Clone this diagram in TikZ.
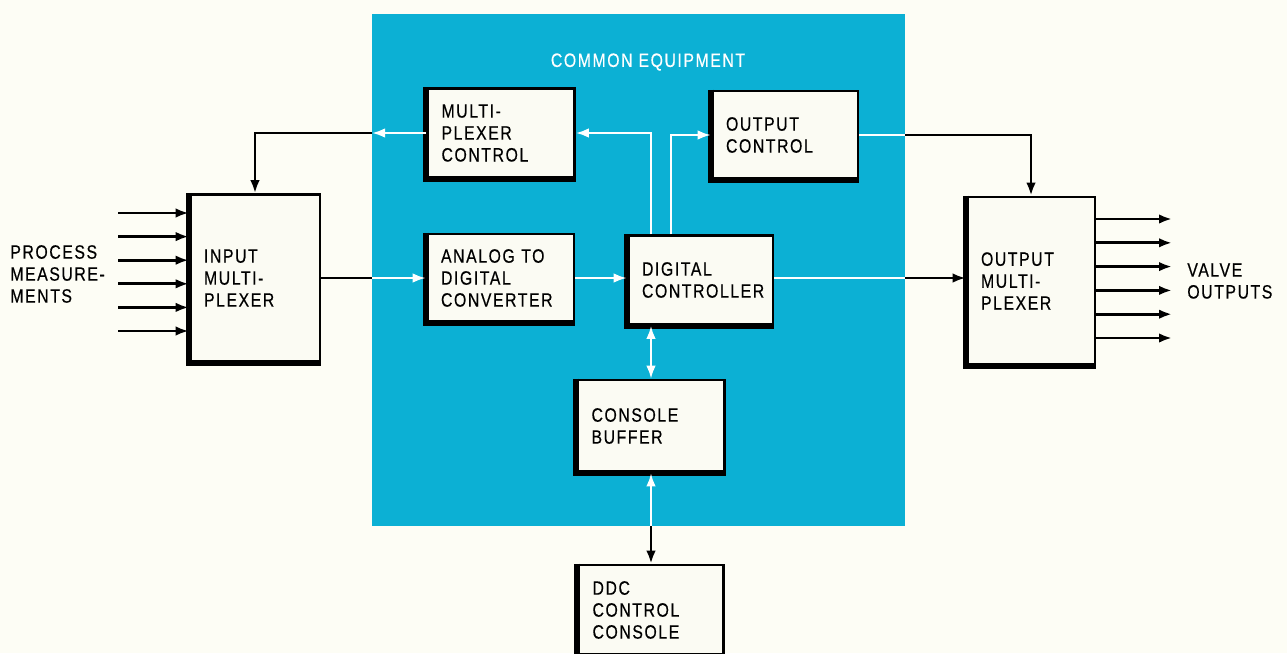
\documentclass[tikz,border=0pt]{standalone}
\usepackage{fontspec}
\setmainfont[FakeStretch=0.82,LetterSpace=8,FakeBold=0.4]{Liberation Sans}
\usetikzlibrary{arrows.meta,calc}
\definecolor{paper}{RGB}{253,253,245}
\definecolor{boxfill}{RGB}{251,251,243}
\definecolor{equip}{RGB}{12,176,212}

\begin{document}
\begin{tikzpicture}[x=0.02cm, y=-0.02cm,
    unit/.style={draw, line width=1.5pt, fill=boxfill, align=left,
                 inner xsep=0.28cm, font=\fontsize{11}{12.5}\selectfont},
    inedge/.style={draw=white, line width=1.2pt},
    outedge/.style={draw=black, line width=1.5pt},
    tip/.style={-{Latex[length=0.26cm,width=0.19cm]}},
    lbl/.style={align=left, inner sep=0pt, font=\fontsize{11}{12.5}\selectfont}
]

% page and common equipment area
\fill[paper] (0,0) rectangle (1287,653);
\useasboundingbox (0,0) rectangle (1287,653);
\node[fill=equip, inner sep=0pt, outer sep=0pt,
      minimum width=10.66cm, minimum height=10.24cm] (equip) at (638.5,270) {};
\node[lbl, text=white] (title) at (648,62) {COMMON EQUIPMENT};

% blocks
\node[unit, text width=2.38cm, minimum height=1.78cm] (mpxctl) at (501,133) {MULTI-\\PLEXER\\CONTROL};
\node[unit, text width=2.36cm, minimum height=1.76cm] (outctl) at (785,135) {OUTPUT\\CONTROL};
\node[unit, text width=2.04cm, minimum height=3.34cm] (inmux)  at (255,278) {INPUT\\MULTI-\\PLEXER};
\node[unit, text width=2.38cm, minimum height=1.76cm] (adc)    at (500.5,278) {ANALOG TO\\DIGITAL\\CONVERTER};
\node[unit, text width=2.34cm, minimum height=1.78cm] (dctl)   at (700.5,280) {DIGITAL\\CONTROLLER};
\node[unit, text width=2.00cm, minimum height=3.36cm] (outmux) at (1031,281) {OUTPUT\\MULTI-\\PLEXER};
\node[unit, text width=2.38cm, minimum height=1.84cm] (cbuf)   at (651,426) {CONSOLE\\BUFFER};
\node[unit, text width=2.34cm, minimum height=1.80cm] (ddc)    at (651,610) {DDC\\CONTROL\\CONSOLE};

% heavy left and bottom edges
\foreach \n in {mpxctl,outctl,inmux,adc,dctl,outmux,cbuf,ddc}
  \draw[line width=3.5pt] (\n.north west) -- (\n.south west) -- (\n.south east);

\node[lbl, anchor=west] (procin) at (10,274) {PROCESS\\MEASURE-\\MENTS};
\node[lbl, anchor=west] (valves) at (1187,281) {VALVE\\OUTPUTS};

% process inputs and valve outputs
\foreach \i in {0,...,5} {
  \coordinate (in\i) at (118,213+23.6*\i);
  \draw[outedge,tip] (in\i) -- (in\i -| inmux.west);
  \coordinate (out\i) at (1172,219+23.8*\i);
  \draw[outedge,tip] (out\i -| outmux.east) -- (out\i);
}

% multiplexer control to input multiplexer
\draw[inedge,tip] (mpxctl.west) -- (equip.west |- mpxctl.west);
\draw[outedge,tip] (equip.west |- mpxctl.west) -| (inmux.north);

% input multiplexer to a/d converter to controller
\draw[outedge] (inmux.east) -- (equip.west |- inmux.east);
\draw[inedge,tip] (equip.west |- inmux.east) -- (adc.west);
\draw[inedge,tip] (adc.east) -- (adc.east -| dctl.west);

% controller to output multiplexer
\draw[inedge] (dctl.east |- adc.east) -- (equip.east |- adc.east);
\draw[outedge,tip] (equip.east |- adc.east) -- (outmux.west |- adc.east);

% controller to the two control blocks
\draw[inedge,tip] (cbuf.north |- dctl.north) |- (mpxctl.east);
\draw[inedge,tip] ($(dctl.north west)!0.3!(dctl.north east)$) |- (outctl.west);

% output control to output multiplexer
\draw[inedge] (outctl.east) -- (equip.east |- outctl.east);
\draw[outedge,tip] (equip.east |- outctl.east) -| (outmux.north);

% console path
\draw[inedge,{Latex[length=0.26cm,width=0.19cm]}-{Latex[length=0.26cm,width=0.19cm]}]
  (cbuf.north |- dctl.south) -- (cbuf.north);
\draw[inedge,{Latex[length=0.26cm,width=0.19cm]}-] (cbuf.south) -- (cbuf.south |- equip.south);
\draw[outedge,tip] (cbuf.south |- equip.south) -- (ddc.north);

\end{tikzpicture}
\end{document}
